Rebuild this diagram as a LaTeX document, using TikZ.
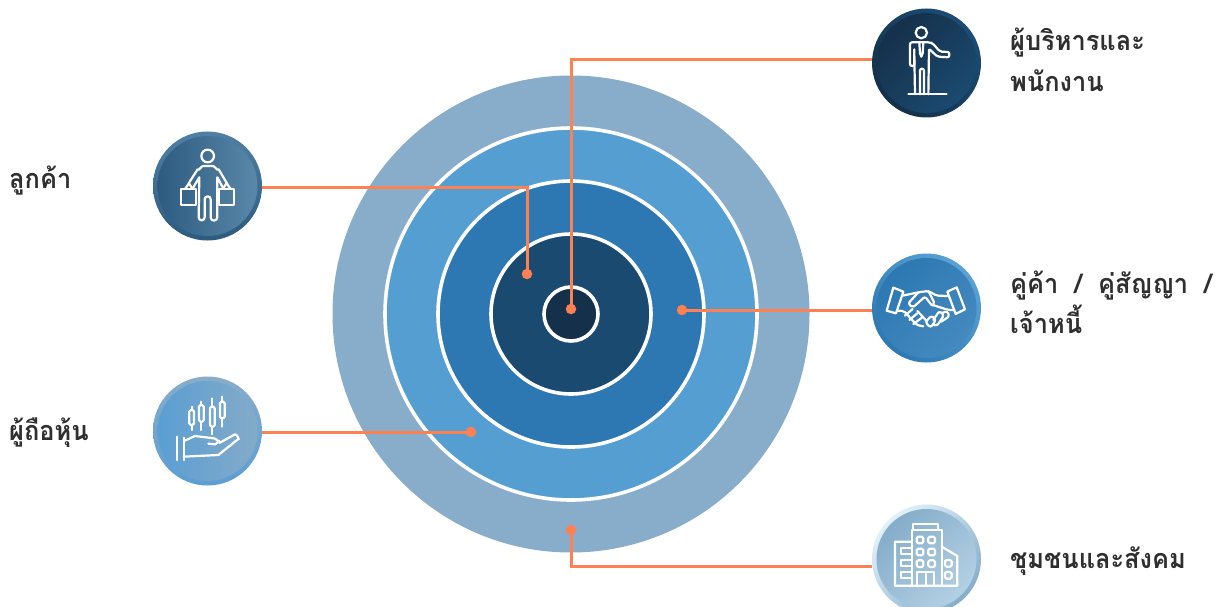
\documentclass[tikz,border=0pt]{standalone}
\usepackage{fontspec}
\setmainfont[Script=Thai,FakeStretch=0.94]{Loma}
\definecolor{ringA}{HTML}{88ADCA}
\definecolor{ringB}{HTML}{559ED2}
\definecolor{ringC}{HTML}{2D78B2}
\definecolor{ringD}{HTML}{1B4A70}
\definecolor{ringE}{HTML}{15304A}
\definecolor{linkc}{HTML}{FF8050}
\definecolor{labelc}{HTML}{2F2F2F}
\definecolor{custO}{HTML}{4F80A4}\definecolor{custP}{HTML}{2D5B80}\definecolor{custQ}{HTML}{5A88A9}
\definecolor{holdO}{HTML}{88ADCA}\definecolor{holdP}{HTML}{5A9ED3}\definecolor{holdQ}{HTML}{84ABC9}
\definecolor{execO}{HTML}{1B4D75}\definecolor{execP}{HTML}{15304A}\definecolor{execQ}{HTML}{1B4A70}
\definecolor{partO}{HTML}{5AA2D5}\definecolor{partP}{HTML}{2D78B2}\definecolor{partQ}{HTML}{448ABF}
\definecolor{commO}{HTML}{E2F1FA}\definecolor{commP}{HTML}{85ADC9}\definecolor{commQ}{HTML}{B3D0E4}
\tikzset{
  ring/.style={circle,inner sep=0pt,minimum size=#1},
  wring/.style={circle,inner sep=0pt,minimum size=#1,draw=white,line width=3.6pt},
  iconring/.style n args={3}{circle,inner sep=0pt,minimum size=109pt,left color=#1,right color=#2,shading angle=#3},
  icondisc/.style n args={3}{circle,inner sep=0pt,minimum size=100pt,left color=#1,right color=#2,shading angle=#3},
  link/.style={draw=linkc,line width=3pt},
  pin/.style={circle,fill=linkc,inner sep=0pt,minimum size=10.5pt},
  glyph/.style={draw=white,line width=2.2pt,line join=round,line cap=round},
  lab/.style={anchor=base west,inner sep=0pt,text=labelc,font=\fontsize{27}{30}\selectfont\bfseries},
  zoomA/.style={shift={(#1)},x=0.3333pt,y=-0.3333pt}
}
\begin{document}
\begin{tikzpicture}[x=1pt,y=-1pt]
\useasboundingbox (0,0) rectangle (1223,607);
\fill[white] (0,0) rectangle (1223,607);
% rings
\node[ring=477pt,fill=ringA] (r1) at (571,314) {};
\node[wring=372pt,fill=ringB] (r2) at (571,314) {};
\node[wring=266pt,fill=ringC] (r3) at (571,314) {};
\node[wring=160pt,fill=ringD] (r4) at (571,314) {};
\node[wring=54pt,fill=ringE] (r5) at (571,314) {};
% pins
\node[pin] (pCust) at (527,274) {};
\node[pin] (pExec) at (571,309) {};
\node[pin] (pPart) at (682,310) {};
\node[pin] (pHold) at (471,432) {};
\node[pin] (pComm) at (571,530) {};
% icon discs
\node[iconring={custO}{custP}{0}] (cust) at (207.5,186) {};
\node[icondisc={custP}{custQ}{90}] at (207.5,186) {};
\node[iconring={holdO}{holdP}{0}] (hold) at (207.5,431) {};
\node[icondisc={holdP}{holdQ}{90}] at (207.5,431) {};
\node[iconring={execO}{execP}{-45}] (exec) at (926.5,63) {};
\node[icondisc={execP}{execQ}{45}] at (926.5,63) {};
\node[iconring={partO}{partP}{-45}] (part) at (926.5,308) {};
\node[icondisc={partP}{partQ}{45}] at (926.5,308) {};
\node[iconring={commO}{commP}{45}] (comm) at (926.5,559) {};
\node[icondisc={commP}{commQ}{45}] at (926.5,559) {};
% connectors
\draw[link] ([yshift=-1pt]cust.east) -| (pCust.center);
\draw[link] ([yshift=3pt]exec.west) -| (pExec.center);
\draw[link] ([yshift=-2pt]part.west) -- (pPart.center);
\draw[link] ([yshift=-1pt]hold.east) -- (pHold.center);
\draw[link] ([yshift=-7pt]comm.west) -| (pComm.center);
% customer icon
\begin{scope}[zoomA={140,120}]
\draw[glyph] (203,108) circle[radius=19];
\draw[glyph] (146,190) -- (173,148) to[out=-50,in=180] (190,138) -- (218,138) to[out=0,in=-130] (236,148) -- (262,192);
\draw[glyph] (160,202) -- (178,172) -- (176,292) arc[start angle=180,end angle=0,radius=9] -- (194,238) arc[start angle=180,end angle=360,radius=9] -- (212,292) arc[start angle=180,end angle=0,radius=10] -- (232,172) -- (248,202);
\draw[glyph] (122,207) rectangle (168,255);
\draw[glyph] (238,207) rectangle (283,255);
\draw[glyph] (135,207) -- (147,190) -- (158,207);
\draw[glyph] (248,207) -- (260,190) -- (272,207);
\end{scope}
% shareholder icon
\begin{scope}[zoomA={140,365}]
\foreach \cx/\wa/\ba/\bb/\wb in {155/125/135/180/195,184/110/120/170/195,217/100/125/185/208,247/95/110/160/185}{
  \draw[glyph] (\cx,\wa) -- (\cx,\ba);
  \draw[glyph] (\cx,\bb) -- (\cx,\wb);
  \draw[glyph,rounded corners=1.5pt] (\cx-7,\ba) rectangle (\cx+7,\bb);
}
\draw[glyph] (110,215) -- (110,285);
\draw[glyph] (132,218) -- (132,285);
\draw[glyph] (132,228) -- (165,213) -- (222,220) to[out=0,in=-90,looseness=0.8] (238,228) to[out=90,in=0,looseness=0.8] (225,238) -- (205,236);
\draw[glyph] (238,234) -- (285,208) to[out=0,in=-60,looseness=1.2] (295,222) -- (235,270) -- (132,275);
\end{scope}
% executive icon
\begin{scope}[zoomA={860,0}]
\draw[glyph] (184,98) circle[radius=17];
\draw[glyph,rounded corners=2pt] (163,148) -- (163,198) -- (150,198) -- (150,127) -- (210,127) -- (218,130) -- (240,155) -- (268,156) -- (268,172) -- (232,170) -- (207,146) -- (205,283);
\draw[glyph] (163,170) -- (165,283);
\draw[glyph] (180,283) -- (180,212) arc[start angle=180,end angle=360,radius=6] -- (192,283);
\draw[glyph] (145,283) -- (260,283);
\draw[glyph] (178,128) -- (180,160) -- (184,170) -- (188,160) -- (190,128);
\end{scope}
% partner icon
\begin{scope}[zoomA={860,245}]
\draw[glyph] (100,128) -- (130,140) -- (108,205) -- (80,197) -- cycle;
\draw[glyph] (262,140) -- (290,127) -- (315,193) -- (287,207) -- cycle;
\draw[glyph,rounded corners=2pt] (128,152) -- (175,142) -- (205,138) -- (230,152) -- (262,153);
\draw[glyph,rounded corners=2pt] (175,142) -- (145,175) -- (158,188) -- (195,155) -- (218,184) -- (224,175) -- (205,138);
\draw[glyph,rounded corners=2pt] (112,197) -- (132,198) -- (170,240) -- (190,244);
\draw[glyph] (135,212) -- (158,192);
\draw[glyph] (148,225) -- (172,205);
\draw[glyph] (160,237) -- (186,218);
\draw[glyph] (172,198) -- (200,228);
\draw[glyph,rounded corners=2pt] (283,195) -- (265,195) -- (218,180);
\draw[glyph,rounded corners=2.5pt] (196,232) -- (214,212) -- (228,224) -- (212,248) -- cycle;
\draw[glyph,rounded corners=2.5pt] (220,225) -- (238,198) -- (252,210) -- (232,242) -- (222,240);
\draw[glyph,rounded corners=2.5pt] (246,204) -- (262,198) -- (268,214) -- (244,230);
\end{scope}
% community icon
\begin{scope}[zoomA={860,495}]
\draw[glyph] (160,105) -- (160,86) -- (233,86) -- (233,105);
\draw[glyph] (155,272) -- (155,105) -- (245,105) -- (245,272);
\draw[glyph] (155,140) -- (105,140) -- (105,272) -- (292,272) -- (292,183) -- (245,155);
\foreach \wx in {170,205}\foreach \wy in {125,161,196}{
  \draw[glyph,rounded corners=1.5pt] (\wx,\wy) rectangle +(20,20);
}
\draw[glyph] (170,272) -- (170,232) -- (222,232) -- (222,272);
\draw[glyph] (197,232) -- (197,272);
\foreach \wy in {160,195,232}{
  \draw[glyph] (155,\wy) -- (122,\wy) -- (122,\wy+18) -- (155,\wy+18);
}
\draw[glyph,rounded corners=1.5pt] (255,195) rectangle +(20,20);
\draw[glyph,rounded corners=1.5pt] (255,231) rectangle +(20,20);
\end{scope}
% labels
\node[lab] (tCust) at (9,188) {ลูกค้า};
\node[lab] (tHold) at (9,440) {ผู้ถือหุ้น};
\node[lab] (tExecA) at (1010,51) {ผู้บริหารและ};
\node[lab] (tExecB) at (1010,92) {พนักงาน};
\node[lab] (tPartA) at (1010,293) {คู่ค้า\hspace{0.6em}/\hspace{0.6em}คู่สัญญา\hspace{0.6em}/};
\node[lab] (tPartB) at (1010,333) {เจ้าหนี้};
\node[lab] (tComm) at (1010,568) {ชุมชนและสังคม};
\end{tikzpicture}
\end{document}
